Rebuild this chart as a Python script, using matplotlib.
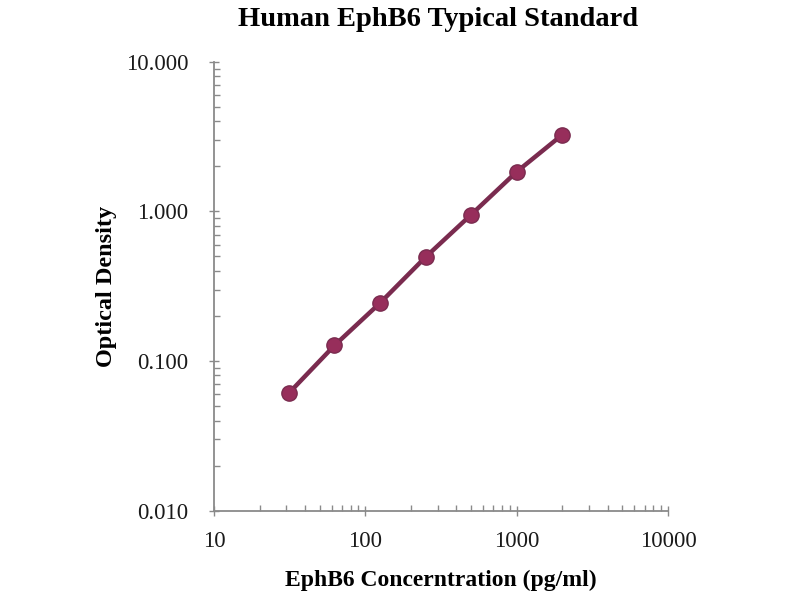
import numpy as np
import matplotlib
matplotlib.use('Agg')
import matplotlib.pyplot as plt
from matplotlib.ticker import LogLocator, FixedLocator, FixedFormatter, NullFormatter

# standard curve data
concentration = [31.25, 62.5, 125, 250, 500, 1000, 2000]
optical_density = [0.061, 0.127, 0.244, 0.495, 0.95, 1.84, 3.25]

x_ticks = [10, 100, 1000, 10000]
x_tick_labels = ['10', '100', '1000', '10000']
y_ticks = [0.01, 0.1, 1, 10]
y_tick_labels = ['0.010', '0.100', '1.000', '10.000']

plt.rcParams['font.family'] = ['Liberation Serif', 'DejaVu Serif']

fig = plt.figure(figsize=(8, 6), dpi=100)
ax = fig.add_axes([0.2675, 0.149, 0.5675, 0.748])

ax.plot(concentration, optical_density, '-', color='#7a2b4f', lw=3.2,
        marker='o', markersize=11, markerfacecolor='#972e5b',
        markeredgecolor='#7a2b4f', markeredgewidth=1)

ax.set_xscale('log')
ax.set_yscale('log')
ax.set_xlim(10, 10000)
ax.set_ylim(0.01, 10)

ax.xaxis.set_major_locator(FixedLocator(x_ticks))
ax.xaxis.set_major_formatter(FixedFormatter(x_tick_labels))
ax.yaxis.set_major_locator(FixedLocator(y_ticks))
ax.yaxis.set_major_formatter(FixedFormatter(y_tick_labels))
ax.xaxis.set_minor_locator(LogLocator(base=10, subs=np.arange(2, 10)))
ax.yaxis.set_minor_locator(LogLocator(base=10, subs=np.arange(2, 10)))
ax.xaxis.set_minor_formatter(NullFormatter())
ax.yaxis.set_minor_formatter(NullFormatter())

for s in ['top', 'right']:
    ax.spines[s].set_visible(False)
for s in ['left', 'bottom']:
    ax.spines[s].set_color('#8a8a8a')
    ax.spines[s].set_linewidth(1.3)

ax.tick_params(which='major', direction='inout', length=7, width=1, color='#8a8a8a',
               labelsize=16.5, labelcolor='#1a1a1a')
ax.tick_params(axis='y', which='major', pad=15)
ax.tick_params(axis='x', which='major', pad=11)
ax.tick_params(which='minor', direction='in', length=4, width=1, color='#8a8a8a')

ax.set_xlabel('EphB6 Concerntration (pg/ml)', fontsize=17, fontweight='bold', labelpad=13)
ax.set_ylabel('Optical Density', fontsize=17.5, fontweight='bold', labelpad=6)
fig.text(0.5475, 0.968, 'Human EphB6 Typical Standard', fontsize=20.5,
         fontweight='bold', ha='center', va='center')

fig.savefig('out.png', dpi=100)
plt.close(fig)
